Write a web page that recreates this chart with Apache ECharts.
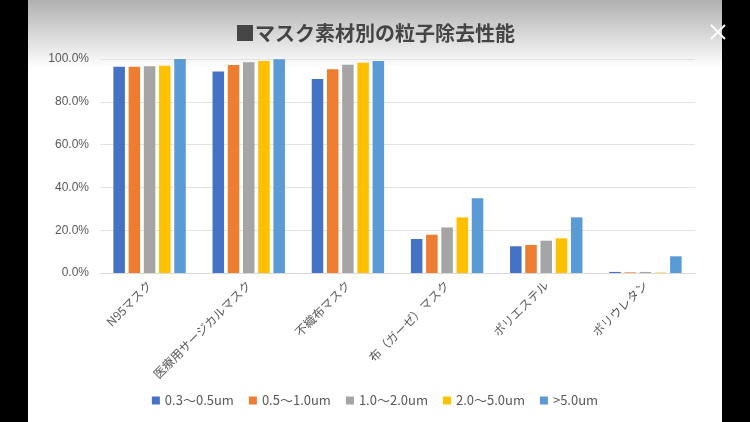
<!DOCTYPE html>
<html><head><meta charset="utf-8">
<script src="https://cdn.jsdelivr.net/npm/echarts@6/dist/echarts.min.js"></script>
<style>html,body{margin:0;padding:0;background:#000;}#c{width:750px;height:422px;}</style>
</head><body><div id="c"></div>
<script>
const categories = ['N95マスク','医療用サージカルマスク','不織布マスク','布（ガーゼ）マスク','ポリエステル','ポリウレタン'];
const seriesNames = ['0.3～0.5um','0.5～1.0um','1.0～2.0um','2.0～5.0um','>5.0um'];
const s03_05 = [96.4, 94.2, 90.6, 15.9, 12.5, 0.5];
const s05_10 = [96.4, 97.2, 95.2, 17.9, 13.1, 0.3];
const s10_20 = [96.6, 98.5, 97.3, 21.3, 15.1, 0.5];
const s20_50 = [96.9, 99.1, 98.3, 26.0, 16.2, 0.2];
const s50up  = [100.0, 99.9, 99.1, 34.9, 26.0, 7.8];
const yTicks = [0, 20, 40, 60, 80, 100];
const colors = ['#4472C4','#ED7D31','#A5A5A5','#FFC000','#5B9BD5'];
const allData = [s03_05, s05_10, s10_20, s20_50, s50up];

const font = "'Noto Sans CJK JP', 'Liberation Sans', sans-serif";
const chart = echarts.init(document.getElementById('c'));
chart.setOption({
  backgroundColor: '#000',
  animation: false,
  textStyle: {fontFamily: font},
  color: colors,
  graphic: [
    {type:'rect', z:-10, shape:{x:28,y:0,width:694,height:422}, style:{fill:'#fff'}},
    {type:'rect', z:-9, shape:{x:28,y:0,width:694,height:68},
      style:{fill:new echarts.graphic.LinearGradient(0,0,0,1,[{offset:0,color:'#b0b0b0'},{offset:1,color:'#ffffff'}])}},
    {type:'line', z:10, shape:{x1:711,y1:25,x2:725,y2:39}, style:{stroke:'#fff', lineWidth:2}},
    {type:'line', z:10, shape:{x1:725,y1:25,x2:711,y2:39}, style:{stroke:'#fff', lineWidth:2}}
  ],
  title: {
    text: '■マスク素材別の粒子除去性能',
    left: 'center', top: 18,
    textStyle: {fontSize: 20, fontWeight: 'bold', color: '#454545', fontFamily: font}
  },
  legend: {
    bottom: 10, left: 'center',
    itemWidth: 8, itemHeight: 8, itemGap: 15,
    icon: 'rect',
    textStyle: {fontSize: 13, color: '#595959', fontFamily: font},
    data: seriesNames
  },
  grid: {left: 100, right: 55, top: 59, bottom: 149},
  xAxis: {
    type: 'category', data: categories,
    axisLine: {lineStyle: {color: '#d9d9d9'}},
    axisTick: {show: false},
    axisLabel: {rotate: 45, interval: 0, fontSize: 12, color: '#595959', margin: 10, fontFamily: font}
  },
  yAxis: {
    type: 'value', min: 0, max: 100, interval: 20,
    axisLine: {show: false}, axisTick: {show: false},
    splitLine: {lineStyle: {color: '#e3e3e3'}},
    axisLabel: {fontSize: 12, color: '#595959', margin: 11, fontFamily: "'Liberation Sans', sans-serif",
      formatter: v => yTicks.includes(v) ? v.toFixed(1) + '%' : ''}
  },
  series: seriesNames.map((n, i) => ({
    name: n, type: 'bar', data: allData[i],
    barGap: '32%', barCategoryGap: '27%',
    itemStyle: {color: colors[i]}
  }))
});
</script></body></html>
